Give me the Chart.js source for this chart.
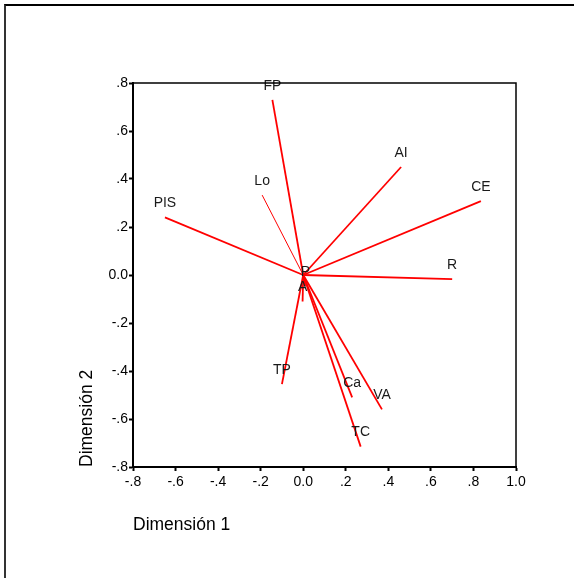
<!DOCTYPE html>
<html>
<head>
<meta charset="utf-8">
<script src="https://cdn.jsdelivr.net/npm/chart.js@4.4.1/dist/chart.umd.min.js"></script>
<style>
  html, body { margin: 0; padding: 0; background: #fff; }
  #wrap { position: relative; width: 574px; height: 578px; }
  #frame { position: absolute; left: 4px; top: 4px; right: 0; bottom: 0;
           border-top: 2px solid #000; border-left: 2px solid #333; }
</style>
</head>
<body>
<div id="wrap">
  <canvas id="biplot" width="574" height="578"></canvas>
  <div id="frame"></div>
</div>
<script>
// Variables and their loadings on the two dimensions
const variables = ["FP", "Lo", "PIS", "AI", "CE", "R", "P", "A", "TP", "Ca", "VA", "TC"];
const dim1 = [-0.145, -0.193, -0.65, 0.46, 0.835, 0.70, 0.01, -0.003, -0.10, 0.23, 0.37, 0.27];
const dim2 = [0.73, 0.333, 0.24, 0.45, 0.308, -0.017, -0.045, -0.11, -0.455, -0.51, -0.56, -0.715];

const xTicks = [-0.8, -0.6, -0.4, -0.2, 0.0, 0.2, 0.4, 0.6, 0.8, 1.0];
const yTicks = [-0.8, -0.6, -0.4, -0.2, 0.0, 0.2, 0.4, 0.6, 0.8];

const FONT = "'Liberation Sans', Arial, sans-serif";

// SPSS style tick labels: ".4", "-.2", "0.0", "1.0"
function fmt(v) {
    if (Math.abs(v) < 1e-9) return "0.0";
    let s = v.toFixed(1);
    if (Math.abs(v) < 1) s = s.replace("0.", ".");
    return s;
}

// One dataset per vector, from the origin to the loading
const datasets = variables.map((name, i) => ({
    label: name,
    data: [{ x: 0, y: 0 }, { x: dim1[i], y: dim2[i] }],
    showLine: true,
    borderColor: "#ff0000",
    borderWidth: name === "Lo" ? 1 : 1.8,
    pointRadius: 0
}));

// Frame around the plot area
const frameBox = {
    id: "frameBox",
    afterDraw(chart) {
        const { ctx, chartArea: a } = chart;
        ctx.save();
        ctx.strokeStyle = "#000";
        ctx.lineWidth = 1.5;
        ctx.strokeRect(a.left, a.top, a.right - a.left, a.bottom - a.top);
        ctx.restore();
    }
};

// Variable names above the vector tips
const tipLabels = {
    id: "tipLabels",
    afterDatasetsDraw(chart) {
        const { ctx, scales } = chart;
        ctx.save();
        ctx.font = "14px " + FONT;
        ctx.fillStyle = "#1a1a1a";
        ctx.textAlign = "center";
        ctx.textBaseline = "middle";
        variables.forEach((name, i) => {
            const px = scales.x.getPixelForValue(dim1[i]);
            const py = scales.y.getPixelForValue(dim2[i]);
            ctx.fillText(name, px, py - 14);
        });
        ctx.restore();
    }
};

new Chart(document.getElementById("biplot"), {
    type: "scatter",
    data: { datasets: datasets },
    options: {
        responsive: false,
        animation: false,
        layout: { padding: { top: 83, right: 58, left: 0, bottom: 0 } },
        plugins: { legend: { display: false }, tooltip: { enabled: false } },
        scales: {
            x: {
                type: "linear",
                min: -0.8, max: 1.0,
                afterBuildTicks: s => { s.ticks = xTicks.map(v => ({ value: v })); },
                afterFit: s => { s.height = 111; },
                ticks: { callback: fmt, color: "#000", font: { family: FONT, size: 14 }, padding: 3, maxRotation: 0 },
                grid: { drawOnChartArea: false, tickLength: 4, tickWidth: 2, color: "#000" },
                border: { color: "#000", width: 2 },
                title: { display: true, text: "Dimensión 1", align: "start", color: "#000",
                         font: { family: FONT, size: 17.5 }, padding: { bottom: 42 } }
            },
            y: {
                type: "linear",
                min: -0.8, max: 0.8,
                afterBuildTicks: s => { s.ticks = yTicks.map(v => ({ value: v })); },
                afterFit: s => { s.width = 133; },
                ticks: { callback: fmt, color: "#000", font: { family: FONT, size: 14 }, padding: 1 },
                grid: { drawOnChartArea: false, tickLength: 4, tickWidth: 2, color: "#000" },
                border: { color: "#000", width: 2 },
                title: { display: true, text: "Dimensión 2", align: "start", color: "#000",
                         font: { family: FONT, size: 17.5 }, padding: { top: 77 } }
            }
        }
    },
    plugins: [frameBox, tipLabels]
});
</script>
</body>
</html>
